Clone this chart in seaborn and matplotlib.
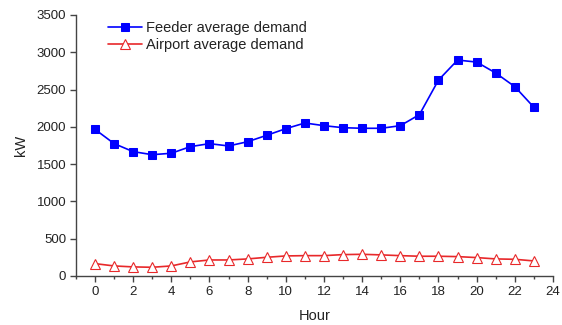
import matplotlib
matplotlib.use("Agg")
import matplotlib.pyplot as plt
import seaborn as sns
import numpy as np
import pandas as pd
from matplotlib.ticker import MultipleLocator

hours = list(range(24))
feeder = [1966, 1775, 1667, 1626, 1645, 1734, 1774, 1743, 1800, 1886, 1975, 2051,
          2015, 1988, 1980, 1980, 2015, 2163, 2627, 2895, 2868, 2721, 2538, 2261]
airport = [165, 134, 121, 116, 134, 188, 214, 214, 228, 250, 268, 272,
           272, 286, 290, 282, 272, 264, 264, 259, 246, 228, 223, 201]
y_ticks = [0, 500, 1000, 1500, 2000, 2500, 3000, 3500]
x_ticks = list(range(0, 25, 2))

sns.set_theme(style="ticks")
plt.rcParams['font.family'] = ['Liberation Sans', 'DejaVu Sans']

fig = plt.figure(figsize=(5.62, 3.25), dpi=100)
ax = fig.add_axes([0.135, 0.151, 0.849, 0.803])

df = pd.DataFrame({"Hour": hours, "Feeder": feeder, "Airport": airport})
sns.lineplot(data=df, x="Hour", y="Feeder", ax=ax, color="#0000ff", lw=1.2,
             marker="s", markersize=5.5, markeredgecolor="#0000ff",
             markerfacecolor="#0000ff", label="Feeder average demand")
sns.lineplot(data=df, x="Hour", y="Airport", ax=ax, color="#e8282a", lw=1.2,
             marker="^", markersize=6.5, markeredgecolor="#e8282a",
             markerfacecolor="white", markeredgewidth=0.8,
             label="Airport average demand")

ax.set_xlim(-1, 24)
ax.set_ylim(0, 3500)
ax.set_xticks(x_ticks)
ax.set_yticks(y_ticks)
ax.xaxis.set_minor_locator(MultipleLocator(1))
ax.tick_params(axis="both", which="major", direction="out", length=4, width=1,
               color="#444444", labelsize=9.5, labelcolor="#222222", pad=3)
ax.tick_params(axis="x", which="minor", direction="out", length=2.5, width=1,
               color="#444444")
for s in ["top", "right"]:
    ax.spines[s].set_visible(False)
for s in ["left", "bottom"]:
    ax.spines[s].set_color("#444444")
    ax.spines[s].set_linewidth(1)

ax.set_xlabel("Hour", fontsize=10.5, color="#222222", labelpad=8)
ax.set_ylabel("kW", fontsize=10.5, color="#222222", labelpad=6)

leg = ax.legend(loc="upper left", bbox_to_anchor=(0.05, 1.01), frameon=False,
                fontsize=10.5, handlelength=2.3, handletextpad=0.3,
                labelspacing=0.2, borderaxespad=0.2)
for t in leg.get_texts():
    t.set_color("#222222")

fig.savefig("out.png", dpi=100)
